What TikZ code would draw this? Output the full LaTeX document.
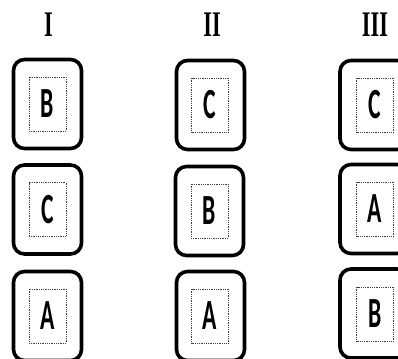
\documentclass[tikz,border=0pt]{standalone}
\usepackage{fontspec}
\newfontfamily\letterfont{Carlito}
\newfontfamily\numfont{Liberation Serif}
\begin{document}
\begin{tikzpicture}[x=1pt,y=-1pt,
  outerbox/.style={draw=black, line width=3.6pt, rounded corners=11pt, minimum width=68pt, minimum height=89pt, inner sep=0pt},
  innerbox/.style={draw=black!75, dash pattern=on 0.9pt off 0.9pt, line width=0.8pt, minimum width=37pt, minimum height=54pt, inner sep=0pt,
    font=\letterfont\bfseries\fontsize{43}{45}\selectfont},
  numlabel/.style={font=\numfont\bfseries\fontsize{36}{38}\selectfont, inner sep=0pt}]
\clip (0,0) rectangle (398,358);
\fill[white] (0,0) rectangle (398,358);
% column labels
\node[numlabel] (l1) at (48.5,25) {\scalebox{0.62}[1]{I}};
\node[numlabel] (l2) at (212,25) {\scalebox{0.62}[1]{II}};
\node[numlabel] (l3) at (375,25) {\scalebox{0.62}[1]{III}};
% column I
\node[outerbox] (o1a) at (47.5,104) {};
\node[outerbox] (o1b) at (47.5,209.5) {};
\node[outerbox] (o1c) at (47.5,316) {};
\node[innerbox] (i1a) at (47.5,104) {\scalebox{0.55}[1]{B}};
\node[innerbox] (i1b) at (47.5,209.5) {\scalebox{0.55}[1]{C}};
\node[innerbox] (i1c) at (47.5,316) {\scalebox{0.55}[1]{A}};
% column II
\node[outerbox] (o2a) at (210.5,105) {};
\node[outerbox] (o2b) at (209.5,211) {};
\node[outerbox] (o2c) at (210.5,316) {};
\node[innerbox] (i2a) at (210,105) {\scalebox{0.55}[1]{C}};
\node[innerbox] (i2b) at (209.5,211) {\scalebox{0.55}[1]{B}};
\node[innerbox] (i2c) at (210,316) {\scalebox{0.55}[1]{A}};
% column III
\node[outerbox] (o3a) at (374,105) {};
\node[outerbox] (o3b) at (374,209) {};
\node[outerbox] (o3c) at (374,313.5) {};
\node[innerbox] (i3a) at (375,105) {\scalebox{0.55}[1]{C}};
\node[innerbox] (i3b) at (375,209) {\scalebox{0.55}[1]{A}};
\node[innerbox] (i3c) at (375,314) {\scalebox{0.55}[1]{B}};
\end{tikzpicture}
\end{document}
